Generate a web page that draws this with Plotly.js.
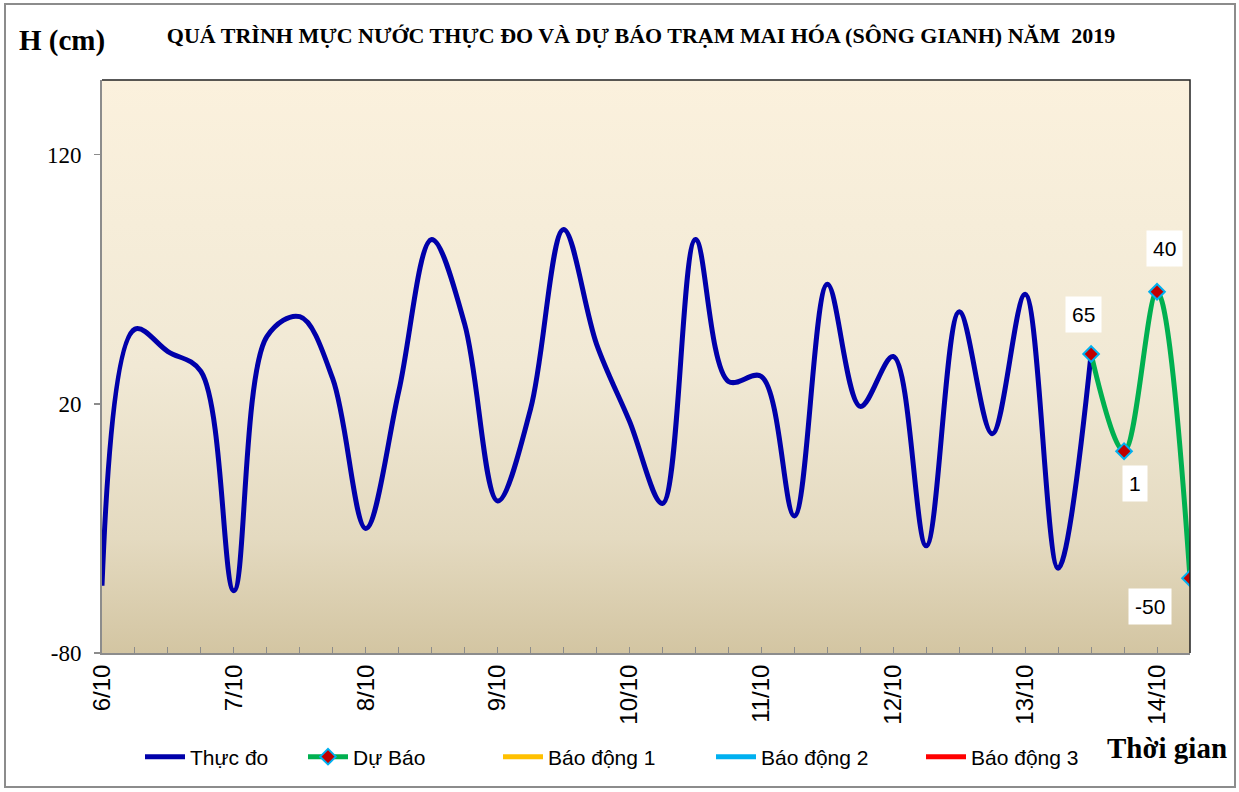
<!DOCTYPE html>
<html>
<head>
<meta charset="utf-8">
<script src="https://cdn.plot.ly/plotly-3.0.1.min.js"></script>
<style>
  html, body { margin: 0; padding: 0; background: #ffffff; }
  #chart { position: absolute; left: 0; top: 0; width: 1239px; height: 792px; }
  #frame { position: absolute; left: 4px; top: 3px; width: 1232px; height: 785px;
           border: 2px solid #8c8c8c; box-sizing: border-box; pointer-events: none; }
</style>
</head>
<body>
<div id="chart"></div>
<div id="frame"></div>
<script>
// ---- data ----
const dayLabels = ["6/10", "7/10", "8/10", "9/10", "10/10", "11/10", "12/10", "13/10", "14/10"];
const stepsPerDay = 4; // observations every 6 hours
// Observed water level (cm), 6-hourly from 6/10 00h
const observed = [-53, 50, 41, 33, -55, 47, 55, 30, -30, 25, 86, 52, -19, 18, 90, 44,
                  13, -20, 86, 29, 31, -25, 68, 19, 39, -37, 57, 8, 64, -46, 40];
// Forecast water level (cm), continuing from the last observation
const forecast = [40, 1, 65, -50];
const forecastLabels = ["65", "1", "40", "-50"];
// Alarm levels (cm) — far above the plotted range, so only their legend entries show
const alarmNames = ["Báo động 1", "Báo động 2", "Báo động 3"];
const alarmLevels = [300, 450, 600];

// ---- styles ----
const alarmColors = ["#FFC000", "#00B0F0", "#FF0000"];
const labelDx = [-8, 11, 7, -40];
const labelDy = [40, -32, 43, -28];
const legendPx = [147, 310, 505, 718, 928]; // left pixel of each legend entry

const obsX = observed.map((_, i) => i / stepsPerDay);
const fcStart = observed.length - 1;
const fcX = forecast.map((_, i) => (fcStart + i) / stepsPerDay);
const xMax = fcX[fcX.length - 1];
const legendIds = ["legend", "legend2", "legend3", "legend4", "legend5"];

const traces = [
  {
    x: obsX, y: observed, name: "Thực đo", type: "scatter", mode: "lines", legend: legendIds[0],
    line: { color: "#0000AA", width: 5, shape: "spline", smoothing: 1 }
  },
  {
    x: fcX, y: forecast, name: "Dự Báo", type: "scatter", mode: "lines+markers", legend: legendIds[1],
    line: { color: "#00B050", width: 5, shape: "spline", smoothing: 1 },
    marker: { symbol: "diamond", size: 12, color: "#C00000", line: { color: "#00B0F0", width: 2 } }
  }
];
alarmNames.forEach((n, i) => {
  traces.push({ x: [0, xMax], y: [alarmLevels[i], alarmLevels[i]], name: n, type: "scatter", mode: "lines",
                legend: legendIds[i + 2], line: { color: alarmColors[i], width: 5 } });
});

const annotations = forecast.map((v, i) => ({
  x: fcX[i], y: v, xref: "x", yref: "y", text: forecastLabels[i], showarrow: false,
  xshift: labelDx[i], yshift: labelDy[i], bgcolor: "#ffffff", borderpad: 6,
  font: { family: "Liberation Sans, Arial", size: 21, color: "#000000" }
}));
annotations.push({
  text: "<b>H (cm)</b>", xref: "paper", yref: "paper", x: -85 / 1088, y: (653 - 40) / 573,
  xanchor: "left", yanchor: "middle", showarrow: false,
  font: { family: "Liberation Serif, Times New Roman", size: 29, color: "#000000" }
});
annotations.push({
  text: "<b>Thời gian</b>", xref: "paper", yref: "paper", x: (1167 - 102) / 1088, y: (653 - 748) / 573,
  xanchor: "center", yanchor: "middle", showarrow: false,
  font: { family: "Liberation Serif, Times New Roman", size: 29, color: "#000000" }
});

const svg = "<svg xmlns='http://www.w3.org/2000/svg' width='100' height='100' preserveAspectRatio='none'>" +
  "<defs><linearGradient id='g' x1='0' y1='0' x2='0' y2='1'>" +
  "<stop offset='0' stop-color='#FBF1DD'/><stop offset='0.5' stop-color='#F1E9D5'/>" +
  "<stop offset='0.8' stop-color='#E4DAC0'/><stop offset='1' stop-color='#D3C5A2'/>" +
  "</linearGradient></defs><rect width='100' height='100' fill='url(#g)'/></svg>";

const layout = {
  width: 1239, height: 792,
  margin: { l: 102, r: 49, t: 80, b: 139, pad: 0 },
  paper_bgcolor: "#ffffff", plot_bgcolor: "rgba(0,0,0,0)",
  title: {
    text: "<b>QUÁ TRÌNH MỰC NƯỚC THỰC ĐO VÀ DỰ BÁO TRẠM MAI HÓA (SÔNG GIANH) NĂM  2019</b>",
    x: 641 / 1239, xanchor: "center", y: 1 - 35 / 792, yanchor: "middle", yref: "container",
    font: { family: "Liberation Serif, Times New Roman", size: 22, color: "#000000" }
  },
  xaxis: {
    range: [0, xMax], showgrid: false, zeroline: false,
    showline: true, linecolor: "#8c8c8c", linewidth: 2,
    tickmode: "array", tickvals: dayLabels.map((_, i) => i), ticktext: dayLabels,
    ticks: "inside", ticklen: 6, tickcolor: "#8c8c8c", tickwidth: 1,
    minor: { dtick: 1 / stepsPerDay, tick0: 0, ticks: "inside", ticklen: 6, tickcolor: "#8c8c8c", tickwidth: 1, showgrid: false },
    tickangle: -90,
    tickfont: { family: "Liberation Sans, Arial", size: 24, color: "#000000" }
  },
  yaxis: {
    range: [-80, 150], showgrid: false, zeroline: false,
    showline: true, linecolor: "#8c8c8c", linewidth: 2,
    tickmode: "array", tickvals: [-80, 20, 120], ticktext: ["-80", "20", "120"],
    ticks: "outside", ticklen: 6, tickcolor: "#8c8c8c", tickwidth: 1.5, ticklabelstandoff: 8,
    tickfont: { family: "Liberation Serif, Times New Roman", size: 23, color: "#000000" }
  },
  showlegend: true,
  images: [{
    source: "data:image/svg+xml;base64," + btoa(svg),
    xref: "paper", yref: "paper", x: 0, y: 1, sizex: 1, sizey: 1,
    xanchor: "left", yanchor: "top", sizing: "stretch", layer: "below"
  }],
  shapes: [{
    type: "path", xref: "paper", yref: "paper", path: "M 0 1 L 1 1 L 1 0",
    line: { color: "#222222", width: 1.5 }
  }],
  annotations: annotations
};
legendIds.forEach((id, i) => {
  layout[id] = {
    orientation: "h", x: (legendPx[i] - 102 - 7) / 1088, xanchor: "left", y: (653 - 757) / 573, yanchor: "middle",
    font: { family: "Liberation Sans, Arial", size: 21, color: "#000000" },
    bgcolor: "rgba(0,0,0,0)", itemwidth: 40
  };
});

Plotly.newPlot("chart", traces, layout, { displayModeBar: false, staticPlot: true });
</script>
</body>
</html>
